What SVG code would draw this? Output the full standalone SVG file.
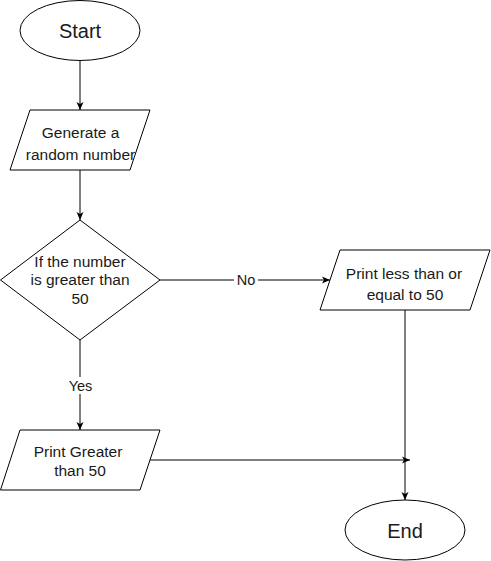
<svg xmlns="http://www.w3.org/2000/svg" width="491" height="561" viewBox="0 0 491 561">
<style>
.shape{fill:#fff;stroke:#000;stroke-width:1}
.t{font-family:"Liberation Sans",Arial,sans-serif;font-size:15.5px;fill:#1a1a1a;text-anchor:middle}
.big{font-size:20px}
.lbl{font-family:"Liberation Sans",Arial,sans-serif;font-size:14.5px;fill:#1a1a1a;text-anchor:middle}
.edge{fill:none;stroke:#000;stroke-width:1}
</style>
<defs>
<marker id="arr" markerWidth="10" markerHeight="10" refX="9" refY="5" orient="auto" markerUnits="userSpaceOnUse">
<path d="M1,1.5 L9,5 L1,8.5 L3,5 z" fill="#000"/>
</marker>
</defs>
<rect width="491" height="561" fill="#fff"/>
<g id="connectors">
<path class="edge" d="M80,61 L80,110" marker-end="url(#arr)"/>
<path class="edge" d="M80,170 L80,220" marker-end="url(#arr)"/>
<path class="edge" d="M160,280 L330,280" marker-end="url(#arr)"/>
<path class="edge" d="M80,340 L80,430" marker-end="url(#arr)"/>
<path class="edge" d="M150,460 L410,460" marker-end="url(#arr)"/>
<path class="edge" d="M405,310 L405,500" marker-end="url(#arr)"/>
<rect x="234" y="272" width="24" height="16" fill="#fff"/>
<text class="lbl" x="246" y="285">No</text>
<rect x="66" y="377" width="29" height="17" fill="#fff"/>
<text class="lbl" x="80.5" y="390.5">Yes</text>
</g>
<g id="start">
<ellipse class="shape" cx="80" cy="30.5" rx="60" ry="30"/>
<text class="t big" x="80" y="37.5">Start</text>
</g>
<g id="generate">
<polygon class="shape" points="30,110 150,110 130,170 10,170"/>
<text class="t" x="80.5" y="138">Generate a</text>
<text class="t" x="80.5" y="160">random number</text>
</g>
<g id="decision">
<polygon class="shape" points="80,220 160,280 80,340 0.5,280"/>
<text class="t" x="80" y="266.5">If the number</text>
<text class="t" x="80" y="285">is greater than</text>
<text class="t" x="80" y="304">50</text>
</g>
<g id="printLess">
<polygon class="shape" points="340,250 490,250 470,310 320,310"/>
<text class="t" x="404" y="278.5">Print less than or</text>
<text class="t" x="405" y="300">equal to 50</text>
</g>
<g id="printGreater">
<polygon class="shape" points="20,430 160,430 140,490 0.5,490"/>
<text class="t" x="78" y="457">Print Greater</text>
<text class="t" x="80" y="475.5">than 50</text>
</g>
<g id="end">
<ellipse class="shape" cx="405" cy="530" rx="60" ry="30"/>
<text class="t big" x="405" y="537.5">End</text>
</g>
</svg>
